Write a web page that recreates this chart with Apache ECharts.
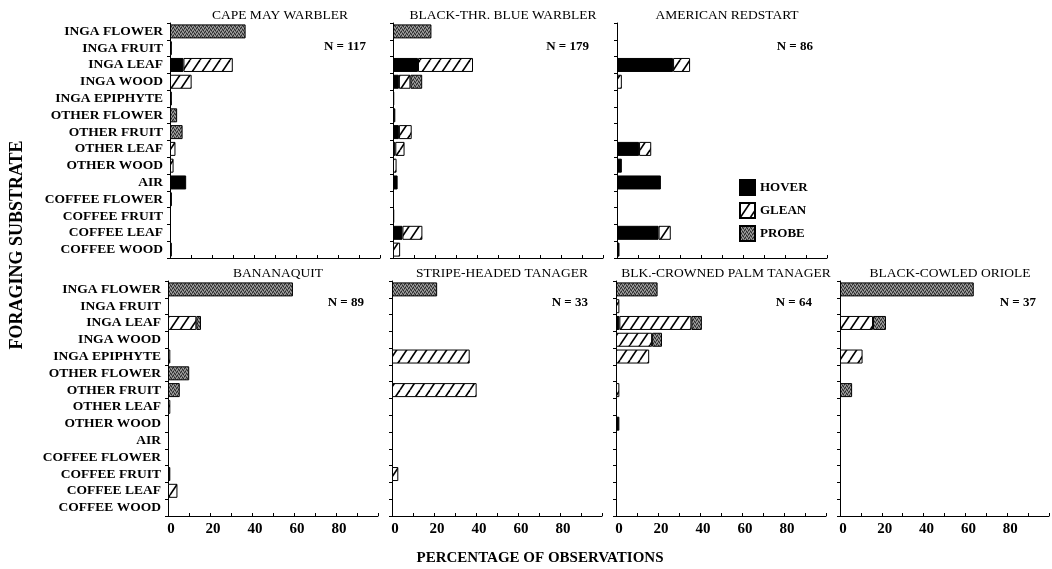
<!DOCTYPE html>
<html>
<head>
<meta charset="utf-8">
<script src="https://cdn.jsdelivr.net/npm/echarts@6/dist/echarts.min.js"></script>
<style>
html,body{margin:0;padding:0;background:#fff;}
#c{width:1052px;height:569px;}
</style>
</head>
<body>
<div id="c"></div>
<script>
const categories = ['INGA FLOWER','INGA FRUIT','INGA LEAF','INGA WOOD','INGA EPIPHYTE','OTHER FLOWER','OTHER FRUIT','OTHER LEAF','OTHER WOOD','AIR','COFFEE FLOWER','COFFEE FRUIT','COFFEE LEAF','COFFEE WOOD'];
const panelNames = ['CAPE MAY WARBLER','BLACK-THR. BLUE WARBLER','AMERICAN REDSTART','BANANAQUIT','STRIPE-HEADED TANAGER','BLK.-CROWNED PALM TANAGER','BLACK-COWLED ORIOLE'];
const panelN = ['N = 117','N = 179','N = 86','N = 89','N = 33','N = 64','N = 37'];
const xTickLabels = [0, 20, 40, 60, 80];

// values in percent, per category
const hover = [
  [0,0,6.4,0,0,0,0,0,0,7.7,0.9,0,0,0],
  [0,0,11.9,2.8,0.6,1.1,2.8,1.1,0,2.2,0,0.6,4.5,0],
  [0,0,26.7,0,0,0,0,10.5,2.3,20.9,0,0,19.8,1.2],
  [0,0,0,0,0,0,0,0,0,0,0,1.1,0,0],
  [0,0,0,0,0,0,0,0,0,0,0,0,0,0],
  [0,0,1.6,0,0,0,0,0,1.6,0,0,0,0,0],
  [0,0,0,0,0,0,0,0,0,0,0,0,0,0]
];
const glean = [
  [0,0.9,23.5,10.3,0.9,0,0,2.6,1.7,0,0,0,0,0.9],
  [0,0,26.2,5.5,0,0,6.1,4.4,1.7,0,0,0,9.5,3.4],
  [0,0,8.1,2.3,0,0,0,5.8,0,0,0,0,5.8,0],
  [0,0,13.5,0,1.1,0,0,1.1,0,0,0,0,4.5,0],
  [0,0,0,0,37,0,40.3,0,0,0,0,3,0,0],
  [0,1.6,34.3,17.2,15.8,0,1.6,0,0,0,0,0,0,0],
  [0,0,15.8,0,10.8,0,0,0,0,0,0,0,0,0]
];
const probe = [
  [36,0,0,0,0,3.4,6.0,0,0,0,0,0,0,0],
  [18.3,0,0,5.6,0,0,0,0,0,0,0,0,0,0],
  [0,0,0,0,0,0,0,0,0,0,0,0,0,0],
  [59.5,0,2.2,0,0,10.1,5.6,0,0,0,0,0,0,0],
  [21.5,0,0,0,0,0,0,0,0,0,0,0,0,0],
  [19.8,0,5,4.7,0,0,0,0,0,0,0,0,0,0],
  [64,0,6.2,0,0,0,5.8,0,0,0,0,0,0,0]
];

const FONT = "'Liberation Serif','Times New Roman',serif";

function hatchPattern(){
  const c = document.createElement('canvas');
  c.width = 10; c.height = 15;
  const g = c.getContext('2d');
  g.fillStyle = '#fff'; g.fillRect(0,0,10,15);
  g.strokeStyle = '#000'; g.lineWidth = 1.6;
  [[0,15,10,0],[-10,15,0,0],[10,15,20,0]].forEach(l=>{g.beginPath();g.moveTo(l[0],l[1]);g.lineTo(l[2],l[3]);g.stroke();});
  return {image: c, repeat: 'repeat'};
}
function stipplePattern(){
  const c = document.createElement('canvas');
  c.width = 4; c.height = 4;
  const g = c.getContext('2d');
  g.fillStyle = '#6e6e6e'; g.fillRect(0,0,4,4);
  g.fillStyle = '#2a2a2a';
  [[0,0],[2,1],[1,3],[3,2]].forEach(p=>g.fillRect(p[0],p[1],1,1));
  g.fillStyle = '#a6a6a6';
  [[1,1],[3,0],[0,2],[2,3]].forEach(p=>g.fillRect(p[0],p[1],1,1));
  return {image: c, repeat: 'repeat'};
}
const hatch = hatchPattern();
const stipple = stipplePattern();

const panelLeft = [170, 393, 617, 168, 392, 616, 840];
const panelTop = [23, 23, 23, 281, 281, 281, 281];
const panelW = 210, panelH = 235;

const grids = [], xAxes = [], yAxes = [], series = [], gfx = [];
const nz = v => (v === 0 ? '-' : v);

for (let i = 0; i < 7; i++) {
  const bottomRow = i >= 3;
  grids.push({left: panelLeft[i], top: panelTop[i], width: panelW, height: panelH});
  xAxes.push({
    gridIndex: i, type: 'value', min: 0, max: 100, interval: 10,
    axisLine: {show: true, lineStyle: {color: '#000', width: 1}},
    axisTick: {show: true, inside: true, length: 3, lineStyle: {color: '#000'}},
    splitLine: {show: false},
    axisLabel: {
      show: bottomRow, margin: 6, color: '#000', fontFamily: FONT, fontWeight: 'bold', fontSize: 15,
      padding: [0, 0, 0, 6],
      formatter: v => (xTickLabels.indexOf(v) >= 0 ? String(v) : '')
    }
  });
  yAxes.push({
    gridIndex: i, type: 'category', inverse: true, data: categories,
    axisLine: {show: true, lineStyle: {color: '#000', width: 1}},
    axisTick: {show: true, length: 3, lineStyle: {color: '#000'}},
    axisLabel: {show: i === 0 || i === 3, margin: 7, color: '#000', fontFamily: FONT, fontWeight: 'bold', fontSize: 13.5, interval: 0}
  });
  const common = {type: 'bar', stack: 'p' + i, xAxisIndex: i, yAxisIndex: i, barWidth: 14};
  series.push(Object.assign({}, common, {name: 'HOVER', data: hover[i].map(nz), itemStyle: {color: '#000', borderColor: '#000', borderWidth: 1}}));
  series.push(Object.assign({}, common, {name: 'GLEAN', data: glean[i].map(nz), itemStyle: {color: hatch, borderColor: '#000', borderWidth: 1}}));
  series.push(Object.assign({}, common, {name: 'PROBE', data: probe[i].map(nz), itemStyle: {color: stipple, borderColor: '#000', borderWidth: 1}}));

  gfx.push({type: 'text', x: panelLeft[i] + 110, y: panelTop[i] - 15,
    style: {text: panelNames[i], fill: '#000', font: '13.5px ' + FONT, textAlign: 'center', textVerticalAlign: 'top'}});
  gfx.push({type: 'text', x: panelLeft[i] + 196, y: panelTop[i] + (bottomRow ? 15 : 17),
    style: {text: panelN[i], fill: '#000', font: 'bold 13px ' + FONT, textAlign: 'right', textVerticalAlign: 'top'}});
}

gfx.push({type: 'text', x: 17, y: 245, rotation: Math.PI / 2,
  style: {text: 'FORAGING SUBSTRATE', fill: '#000', font: 'bold 18px ' + FONT, textAlign: 'center', textVerticalAlign: 'middle'}});
gfx.push({type: 'text', x: 540, y: 558,
  style: {text: 'PERCENTAGE OF OBSERVATIONS', fill: '#000', font: 'bold 15px ' + FONT, textAlign: 'center', textVerticalAlign: 'middle'}});

const chart = echarts.init(document.getElementById('c'), null, {renderer: 'canvas'});
chart.setOption({
  animation: false,
  backgroundColor: '#fff',
  grid: grids, xAxis: xAxes, yAxis: yAxes, series: series,
  legend: {
    data: ['HOVER', 'GLEAN', 'PROBE'], orient: 'vertical', left: 739, top: 179, padding: 0,
    itemWidth: 15, itemHeight: 15, itemGap: 6, selectedMode: false, icon: 'rect',
    textStyle: {color: '#000', fontFamily: FONT, fontWeight: 'bold', fontSize: 13}
  },
  graphic: gfx
});
</script>
</body>
</html>
